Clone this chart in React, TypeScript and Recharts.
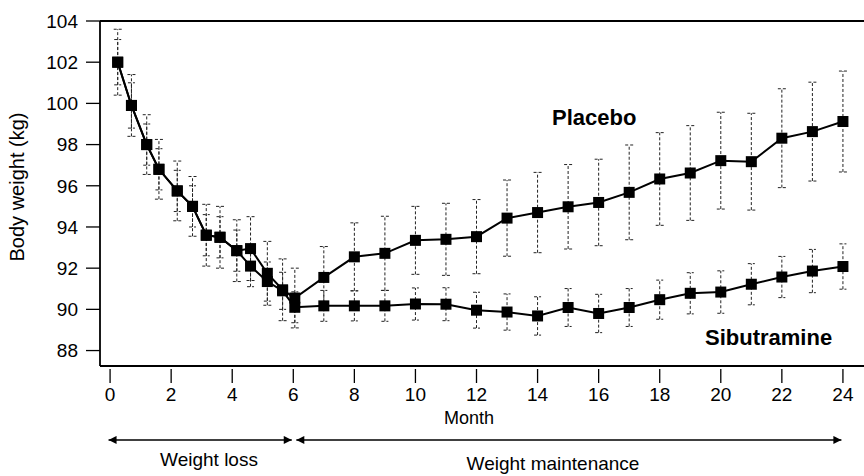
import React from "react";
import { LineChart, Line, XAxis, YAxis, ErrorBar, ReferenceLine } from "recharts";

// month of each visit (fortnightly during weight loss, monthly afterwards)
const months = [
  0.25, 0.7, 1.2, 1.6, 2.2, 2.7, 3.15, 3.6, 4.15, 4.6, 5.15, 5.65, 6.05,
  7, 8, 9, 10, 11, 12, 13, 14, 15, 16, 17, 18, 19, 20, 21, 22, 23, 24,
];

const placebo = [
  102.0, 99.9, 98.0, 96.8, 95.75, 95.0, 93.6, 93.5, 92.85, 92.95, 91.75, 90.95, 90.55,
  91.55, 92.55, 92.72, 93.35, 93.4, 93.53, 94.43, 94.7, 94.98, 95.19, 95.68, 96.33,
  96.62, 97.22, 97.17, 98.31, 98.63, 99.12,
];

const sibutramine = [
  102.0, 99.9, 98.0, 96.8, 95.75, 95.0, 93.6, 93.5, 92.85, 92.1, 91.35, 90.9, 90.1,
  90.17, 90.17, 90.17, 90.26, 90.25, 89.96, 89.87, 89.68, 90.09, 89.8, 90.09, 90.47,
  90.78, 90.84, 91.22, 91.57, 91.86, 92.08,
];

// SD half-widths
const placeboSd = [
  1.6, 1.5, 1.45, 1.45, 1.45, 1.45, 1.5, 1.5, 1.5, 1.55, 1.55, 1.5, 1.45,
  1.5, 1.65, 1.8, 1.65, 1.75, 1.8, 1.85, 1.95, 2.05, 2.1, 2.3, 2.25, 2.3, 2.35, 2.35,
  2.4, 2.4, 2.45,
];

const sibutramineSd = [
  1.1, 1.1, 1.0, 1.0, 1.0, 1.0, 1.0, 1.0, 1.0, 1.0, 0.95, 0.9, 0.75,
  0.75, 0.73, 0.75, 0.78, 0.8, 0.87, 0.88, 0.93, 0.92, 0.93, 0.92, 0.95, 1.0, 1.03,
  1.0, 1.0, 1.05, 1.1,
];

const xTicks = [0, 2, 4, 6, 8, 10, 12, 14, 16, 18, 20, 22, 24];
const yTicks = [88, 90, 92, 94, 96, 98, 100, 102, 104];

// phases drawn as arrows under the axis (month ranges)
const weightLoss = [-0.05, 5.95];
const weightMaintenance = [6.1, 23.95];
const ARROW_Y = 83.66;

const data = months.map((m, i) => ({
  month: m,
  placebo: placebo[i],
  sibutramine: sibutramine[i],
  placeboSd: placeboSd[i],
  sibutramineSd: sibutramineSd[i],
}));

const FONT = "'Liberation Sans', Arial, Helvetica, sans-serif";

function Square(props: any) {
  const { cx, cy } = props;
  if (cx == null || cy == null) return null;
  return <rect x={cx - 5.5} y={cy - 5.5} width={11} height={11} fill="#000" />;
}

function MonthTick(props: any) {
  const { x, y, payload } = props;
  return (
    <g>
      <line x1={x} y1={y + 3} x2={x} y2={y + 17} stroke="#000" strokeWidth={1.3} />
      <text x={x} y={y + 35} textAnchor="middle" fontSize={19} fill="#000">
        {payload.value}
      </text>
    </g>
  );
}

export default function App() {
  return (
    <div style={{ position: "absolute", left: 0, top: 0, width: 864, height: 476, background: "#fff" }}>
      <LineChart
        width={864}
        height={476}
        data={data}
        margin={{ top: 21, right: 0, bottom: 50, left: 0 }}
        style={{ fontFamily: FONT }}
      >
        <defs>
          <marker
            id="arrowHead"
            viewBox="0 0 10 10"
            refX="10"
            refY="5"
            markerWidth="9"
            markerHeight="8"
            markerUnits="userSpaceOnUse"
            orient="auto-start-reverse"
          >
            <path d="M0,0 L10,5 L0,10 z" fill="#000" />
          </marker>
        </defs>
        <XAxis
          dataKey="month"
          type="number"
          domain={[-0.33, 24.69]}
          allowDataOverflow
          ticks={xTicks}
          tickLine={false}
          tickSize={0}
          tickMargin={0}
          height={60}
          axisLine={{ stroke: "#000", strokeWidth: 1.8 }}
          tick={<MonthTick />}
        />
        <YAxis
          type="number"
          domain={[87.25, 104]}
          allowDataOverflow
          ticks={yTicks}
          width={100}
          tickSize={14}
          tickMargin={8}
          tickLine={{ stroke: "#000", strokeWidth: 1.3 }}
          axisLine={{ stroke: "#000", strokeWidth: 1.8 }}
          tick={{ fill: "#000", fontSize: 19 }}
        />
        <ReferenceLine y={104} stroke="#000" strokeWidth={1.8} />
        <ReferenceLine
          segment={[
            { x: weightLoss[0], y: ARROW_Y },
            { x: weightLoss[1], y: ARROW_Y },
          ]}
          ifOverflow="visible"
          stroke="#000"
          strokeWidth={1.5}
          markerStart="url(#arrowHead)"
          markerEnd="url(#arrowHead)"
        />
        <ReferenceLine
          segment={[
            { x: weightMaintenance[0], y: ARROW_Y },
            { x: weightMaintenance[1], y: ARROW_Y },
          ]}
          ifOverflow="visible"
          stroke="#000"
          strokeWidth={1.5}
          markerStart="url(#arrowHead)"
          markerEnd="url(#arrowHead)"
        />
        <Line
          dataKey="placebo"
          stroke="#000"
          strokeWidth={2}
          isAnimationActive={false}
          dot={(p: any) => <Square key={`p${p.index}`} {...p} />}
          activeDot={false}
        >
          <ErrorBar dataKey="placeboSd" width={4} stroke="#222" strokeWidth={1} strokeDasharray="3 2" isAnimationActive={false} />
        </Line>
        <Line
          dataKey="sibutramine"
          stroke="#000"
          strokeWidth={2}
          isAnimationActive={false}
          dot={(p: any) => <Square key={`s${p.index}`} {...p} />}
          activeDot={false}
        >
          <ErrorBar dataKey="sibutramineSd" width={3.5} stroke="#222" strokeWidth={1} strokeDasharray="3 2" isAnimationActive={false} />
        </Line>
        <text x={17} y={187} transform="rotate(-90 17 187)" textAnchor="middle" dominantBaseline="central" fontSize={20} fill="#000">
          Body weight (kg)
        </text>
        <text x={469} y={424} textAnchor="middle" fontSize={18} fill="#000">Month</text>
        <text x={552} y={125} fontSize={22} fontWeight="bold" fill="#000">Placebo</text>
        <text x={705} y={345} fontSize={22} fontWeight="bold" fill="#000">Sibutramine</text>
        <text x={209} y={466} textAnchor="middle" fontSize={19} fill="#000">Weight loss</text>
        <text x={553} y={470} textAnchor="middle" fontSize={19} fill="#000">Weight maintenance</text>
      </LineChart>
    </div>
  );
}
